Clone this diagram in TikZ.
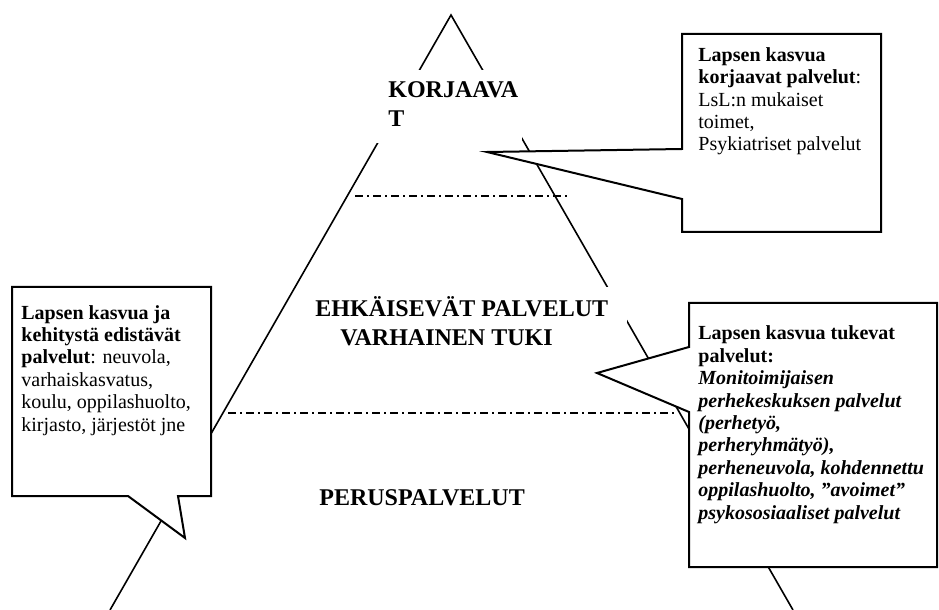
\documentclass[tikz,border=0pt]{standalone}
\usepackage{fontspec}
\setmainfont{Liberation Serif}
\usepackage{tikz}

\begin{document}
\begin{tikzpicture}[x=0.5pt, y=-0.5pt,
  pyrside/.style={line width=0.8pt},
  tierline/.style={line width=0.8pt, dash pattern=on 4pt off 2pt on 1pt off 2pt},
  bubble/.style={draw, line width=1pt, fill=white},
  bubbletext/.style={anchor=base west, align=left, inner sep=0pt, font=\fontsize{10}{11.2}\selectfont},
  tiertext/.style={anchor=base west, align=left, inner sep=0pt, font=\fontsize{12}{14.5}\selectfont\bfseries}]
\useasboundingbox (0,0) rectangle (939,610);

\coordinate (apex) at (451,15);
\coordinate (baseL) at (110,610);
\coordinate (baseR) at (793,610);
\draw[pyrside] (baseL) -- (apex) -- (baseR);

\coordinate (t1L) at (355,196);
\coordinate (t1R) at (568,196);
\coordinate (t2L) at (228,413);
\coordinate (t2R) at (676,413);
\draw[tierline] (t1L) -- (t1R);
\draw[tierline] (t2L) -- (t2R);

% white text boxes over the sides
\fill[white] (372,70) rectangle (522,143);
\fill[white] (305,287) rectangle (627,355);

\draw[bubble] (682,34) -- (881,34) -- (881,232) -- (682,232) -- (682,199) -- (487,152) -- (682,149) -- cycle;
\draw[bubble] (12,287) -- (211,287) -- (211,496) -- (178,496) -- (185,538) -- (128,496) -- (12,496) -- cycle;
\draw[bubble] (689,303) -- (937,303) -- (937,567) -- (689,567) -- (689,412) -- (597,373) -- (689,347) -- cycle;

\node[tiertext] (korj) at (388,127) {KORJAAVA\\T};
\node[tiertext] (ehk) at (315,346) {EHKÄISEVÄT PALVELUT\\\hspace*{12.5pt}VARHAINEN TUKI};
\node[tiertext] (perus) at (319,505) {PERUSPALVELUT};

\node[bubbletext] (korjtxt) at (698,151) {\textbf{Lapsen kasvua}\\\textbf{korjaavat palvelut}:\\LsL:n mukaiset\\toimet,\\Psykiatriset palvelut};
\node[bubbletext] (edistxt) at (21,431) {\textbf{Lapsen kasvua ja}\\\textbf{kehitystä edistävät}\\\textbf{palvelut}: neuvola,\\varhaiskasvatus,\\koulu, oppilashuolto,\\kirjasto, järjestöt jne};
\node[bubbletext] (tuktxt) at (698,519) {\textbf{Lapsen kasvua tukevat}\\\textbf{palvelut:}\\\textbf{\textit{Monitoimijaisen}}\\\textbf{\textit{perhekeskuksen palvelut}}\\\textbf{\textit{(perhetyö,}}\\\textbf{\textit{perheryhmätyö),}}\\\textbf{\textit{perheneuvola, kohdennettu}}\\\textbf{\textit{oppilashuolto, ”avoimet”}}\\\textbf{\textit{psykososiaaliset palvelut}}};
\end{tikzpicture}
\end{document}
